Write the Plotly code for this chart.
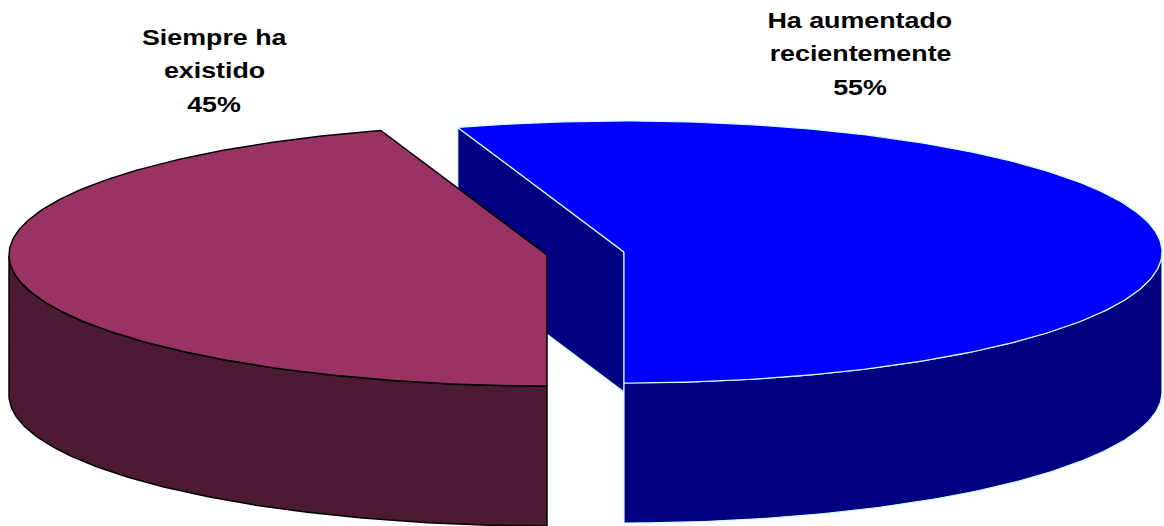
import numpy as np
import plotly.graph_objects as go

# Data
categories = ["Ha aumentado recientemente", "Siempre ha existido"]
shares = [55, 45]
label_lines = [["Ha aumentado", "recientemente", "55%"], ["Siempre ha", "existido", "45%"]]

# Styles
top_colors = ["#0000FF", "#993366"]
side_colors = ["#000080", "#4D1A33"]
edge_colors = ["#CCFFFF", "#000000"]
edge_widths = [1.2, 1.5]

# Pie geometry (pixel-space axes)
RX, RY, DEPTH = 538, 131, 140
centers = [(624, 252), (547, 255)]
label_x = [860, 214]
label_y0 = [20, 37]
LINE_STEP = 33.5
START = -90.0


def pt(c, t, dz=0):
    return c[0] + RX * np.cos(t), c[1] - RY * np.sin(t) + dz


def poly(fig, xs, ys, fill, edge, width):
    fig.add_trace(go.Scatter(
        x=list(xs), y=list(ys), mode="lines", fill="toself", fillcolor=fill,
        line=dict(color=edge, width=width), hoverinfo="skip", showlegend=False,
    ))


fig = go.Figure()
angles = START + np.cumsum([0] + [s / sum(shares) * 360 for s in shares])
spans = [(np.radians(angles[i]), np.radians(angles[i + 1])) for i in range(len(shares))]
N = 240

for i in range(len(shares)):
    c = centers[i]
    t0, t1 = spans[i]
    t = np.linspace(t0, t1, N)
    if i == 0:
        # exposed cut face of the first slice, seen through the explosion gap
        ex, ey = pt(c, t1)
        poly(fig, [ex, c[0], c[0], ex, ex], [ey, c[1], c[1] + DEPTH, ey + DEPTH, ey],
             side_colors[i], edge_colors[i], edge_widths[i])
    # outer wall: only the part of the arc that faces the viewer
    tw = t[np.sin(t) <= 0]
    wx, wy = pt(c, tw)
    bx, by = pt(c, tw[::-1], DEPTH)
    poly(fig, np.r_[wx, bx, wx[0]], np.r_[wy, by, wy[0]],
         side_colors[i], edge_colors[i], edge_widths[i])
    # top face
    tx, ty = pt(c, t)
    poly(fig, np.r_[c[0], tx, c[0]], np.r_[c[1], ty, c[1]],
         top_colors[i], edge_colors[i], edge_widths[i])

annotations = []
for i, lines in enumerate(label_lines):
    for j, line in enumerate(lines):
        annotations.append(dict(
            x=label_x[i], y=label_y0[i] + j * LINE_STEP, text=f"<b>{line}</b>",
            showarrow=False, xanchor="center", yanchor="middle",
            font=dict(family="Liberation Sans", size=22, color="#000000"),
        ))

fig.update_layout(
    width=1164, height=526, margin=dict(l=0, r=0, t=0, b=0),
    paper_bgcolor="#FFFFFF", plot_bgcolor="#FFFFFF", showlegend=False,
    xaxis=dict(range=[0, 1164], visible=False, fixedrange=True),
    yaxis=dict(range=[526, 0], visible=False, fixedrange=True),
    annotations=annotations,
)
# The reference labels are stretched horizontally; widen the real text about its centre.
post = """
document.body.style.margin='0';document.body.style.overflow='hidden';
document.querySelectorAll('.annotation-text').forEach(function(el){
  var b=el.getBBox(), cx=b.x+b.width/2;
  el.setAttribute('transform','translate('+cx+',0) scale(1.22,1) translate('+(-cx)+',0)');
});
"""
fig.write_html("out.html", config={"displayModeBar": False}, post_script=post)
